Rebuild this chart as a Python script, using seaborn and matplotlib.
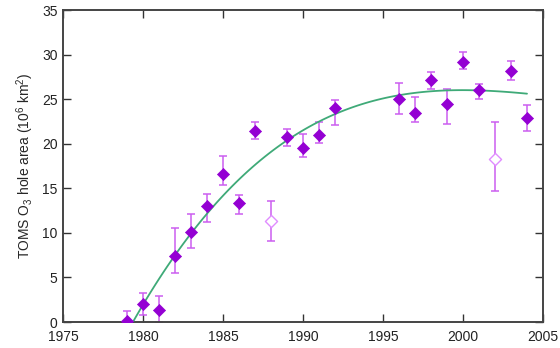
import matplotlib
matplotlib.use("Agg")
import matplotlib.pyplot as plt
import seaborn as sns
import numpy as np
import pandas as pd

# Annual ozone hole area (10^6 km^2) with asymmetric uncertainty
years = [1979, 1980, 1981, 1982, 1983, 1984, 1985, 1986, 1987, 1989, 1990,
         1991, 1992, 1996, 1997, 1998, 1999, 2000, 2001, 2003, 2004]
area = [0.15, 2.0, 1.3, 7.45, 10.1, 13.0, 16.6, 13.4, 21.4, 20.75, 19.55,
        21.0, 24.0, 25.0, 23.5, 27.1, 24.4, 29.2, 26.0, 28.2, 22.9]
err_low = [1.1, 1.25, 1.3, 1.95, 1.75, 1.75, 1.2, 1.25, 0.9, 1.0, 1.0,
           0.9, 1.9, 1.7, 1.1, 1.0, 2.2, 0.8, 0.95, 1.0, 1.5]
err_high = [1.1, 1.2, 1.6, 3.15, 2.05, 1.4, 2.05, 0.85, 1.0, 0.9, 1.55,
            1.4, 0.9, 1.85, 1.7, 1.0, 1.7, 1.1, 0.7, 1.1, 1.4]

# Anomalous years, shown as open symbols and left out of the trend fit
years_open = [1988, 2002]
area_open = [11.35, 18.3]
err_low_open = [2.3, 3.6]
err_high_open = [2.25, 4.1]

x_ticks = [1975, 1980, 1985, 1990, 1995, 2000, 2005]
y_ticks = [0, 5, 10, 15, 20, 25, 30, 35]

sns.set_style("ticks")
plt.rcParams["font.family"] = ["Liberation Sans", "DejaVu Sans"]
plt.rcParams["mathtext.fontset"] = "custom"
plt.rcParams["mathtext.rm"] = "Liberation Sans"
plt.rcParams["mathtext.it"] = "Liberation Sans"

df = pd.DataFrame({"year": years, "area": area})

fig = plt.figure(figsize=(5.6, 3.48), dpi=100)
ax = fig.add_axes([63 / 560, 1 - 322 / 348, 480 / 560, 312 / 348])

bar_color = "#cc5ef0"
fill_color = "#9400d3"

ax.errorbar(years, area, yerr=[err_low, err_high], fmt="none",
            ecolor=bar_color, elinewidth=1.1, capsize=2.6, capthick=1.1, zorder=2)
ax.errorbar(years_open, area_open, yerr=[err_low_open, err_high_open], fmt="none",
            ecolor=bar_color, elinewidth=1.1, capsize=2.6, capthick=1.1, zorder=2)

sns.scatterplot(x=years, y=area, marker="D", s=38, color=fill_color,
                edgecolor=fill_color, linewidth=0.5, ax=ax, zorder=4)
ax.scatter(years_open, area_open, marker="D", s=38, facecolor="white",
           edgecolor="#e08cff", linewidth=1.0, zorder=4)

# Cubic trend through the filled points
sns.regplot(data=df, x="year", y="area", order=3, scatter=False, ci=None,
            line_kws={"color": "#3faa78", "linewidth": 1.3, "zorder": 3}, ax=ax)

ax.set_xlim(1975, 2005)
ax.set_ylim(0, 35)
ax.set_xticks(x_ticks)
ax.set_yticks(y_ticks)
ax.set_xlabel("")
ax.set_ylabel(r"TOMS O$_3$ hole area (10$^6$ km$^2$)", fontsize=10, labelpad=4)

ax.tick_params(direction="in", length=6, width=1.0, colors="#333333",
               top=True, right=True, labelsize=10, labelcolor="#222222")
ax.tick_params(axis="x", pad=6)
ax.tick_params(axis="y", pad=4)
for side in ax.spines.values():
    side.set_visible(True)
    side.set_color("#444444")
    side.set_linewidth(1.4)

fig.savefig("out.png", dpi=100)
